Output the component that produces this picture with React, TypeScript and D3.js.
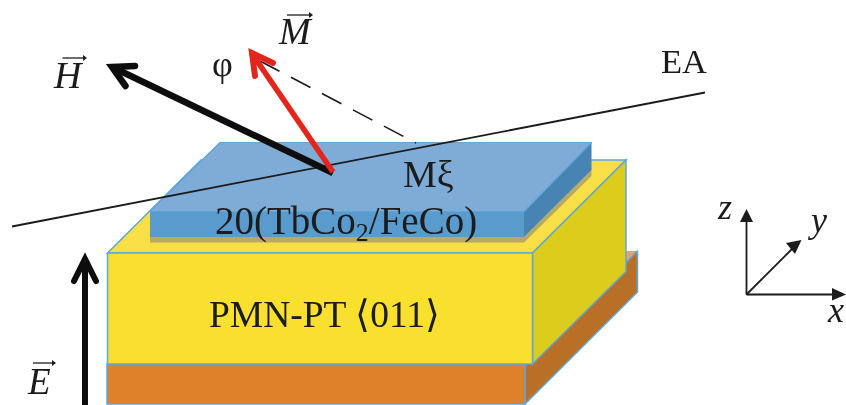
import React from 'react';
import * as d3 from 'd3';

type Pt = [number, number];

// picture space of the schematic
const extentX: Pt = [0, 846];
const extentY: Pt = [0, 405];

const orangeFront: Pt[] = [[107, 364], [525, 364], [525, 404], [107, 404]];
const orangeSide: Pt[] = [[525, 364], [637.5, 251], [637.5, 292], [525, 404]];
const orangeTop: Pt[] = [[600, 251], [637.5, 251], [600, 289]];
const yellowTop: Pt[] = [[107.5, 253], [201, 160], [626, 160], [532.5, 253]];
const yellowFront: Pt[] = [[107.5, 253], [532.5, 253], [532.5, 364], [107.5, 364]];
const yellowSide: Pt[] = [[532.5, 253], [626, 160], [626, 271.5], [532.5, 364]];
const filmShadow: Pt[] = [[150, 237], [524, 237], [591.5, 170], [591.5, 176], [524, 242.5], [150, 242.5]];
const filmTop: Pt[] = [[150, 211.5], [220, 142.5], [591.5, 142.5], [524, 211.5]];
const filmFront: Pt[] = [[150, 211.5], [524, 211.5], [524, 237], [150, 237]];
const filmSide: Pt[] = [[524, 211.5], [591.5, 142.5], [591.5, 170], [524, 237]];

const easyAxis: Pt[] = [[12, 226.5], [705, 92.5]];
const dashedGuide: Pt[] = [[260, 61], [416, 143]];
const fieldH: Pt[] = [[333, 173], [112, 67]];
const fieldHHead: Pt[] = [[135, 66], [112, 67], [125.5, 86]];
const magnetM: Pt[] = [[333, 172], [253, 55]];
const magnetMHead: Pt[] = [[273, 63], [252, 53], [255, 76]];
const fieldE: Pt[] = [[85, 405], [85, 260]];
const fieldEHead: Pt[] = [[74, 281], [85, 259], [96, 281]];

const axisOrigin: Pt = [746.5, 294.5];
const axisEnds: Pt[] = [[746.5, 218], [794, 247], [836, 294.5]];
const axisHeads: Pt[][] = [
  [[740, 222], [746.5, 209], [753, 222]],
  [[786, 243], [801.5, 240], [795, 254]],
  [[832, 288], [846, 294.5], [832, 300.5]],
];

const vectorBars: Pt[][] = [
  [[62.5, 58], [84, 58]],
  [[287, 15], [310, 15]],
  [[33, 363], [53, 363]],
];

const edge = '#5fa6d9';

const App: React.FC = () => {
  const x = d3.scaleLinear().domain(extentX).range([0, 846]);
  const y = d3.scaleLinear().domain(extentY).range([0, 405]);
  const line = d3.line<Pt>().x(d => x(d[0])).y(d => y(d[1]));
  const poly = d3.line<Pt>().x(d => x(d[0])).y(d => y(d[1])).curve(d3.curveLinearClosed);

  const serif = '"Liberation Serif", serif';

  return (
    <svg
      width={846}
      height={405}
      viewBox="0 0 846 405"
      style={{ position: 'absolute', left: 0, top: 0, background: '#fff' }}
      fontFamily={serif}
      fill="#1a1a1a"
    >
      <defs>
        <filter id="soft" x="0" y="0" width="100%" height="100%">
          <feGaussianBlur stdDeviation={0.45} />
        </filter>
      </defs>
      <g filter="url(#soft)">
        {/* substrate */}
        <path d={poly(orangeTop)!} fill="#e2a274" />
        <path d={poly(orangeSide)!} fill="#b86f27" stroke={edge} strokeWidth={1.5} strokeLinejoin="round" />
        <path d={poly(orangeFront)!} fill="#de812b" stroke={edge} strokeWidth={1.5} />

        {/* PMN-PT block */}
        <path d={poly(yellowTop)!} fill="#f8df45" stroke={edge} strokeWidth={1.5} />
        <path d={poly(yellowSide)!} fill="#dccc1c" stroke={edge} strokeWidth={1.5} />
        <path d={poly(yellowFront)!} fill="#fae02d" stroke={edge} strokeWidth={1.5} />

        {/* film */}
        <path d={poly(filmShadow)!} fill="#b8aa62" />
        <path d={poly(filmFront)!} fill="#5a9bce" />
        <path d={poly(filmSide)!} fill="#4684b4" />
        <path d={poly(filmTop)!} fill="#7eacd6" stroke={edge} strokeWidth={1.2} strokeLinejoin="round" />

        {/* easy axis and guide */}
        <path d={line(easyAxis)!} fill="none" stroke="#1a1a1a" strokeWidth={1.8} />
        <path d={line(dashedGuide)!} fill="none" stroke="#1a1a1a" strokeWidth={1.6} strokeDasharray="22 13" />

        {/* vectors */}
        <path d={line(fieldH)!} fill="none" stroke="#111" strokeWidth={6.5} />
        <path d={line(fieldHHead)!} fill="none" stroke="#111" strokeWidth={6.5} strokeLinecap="round" />
        <path d={line(magnetM)!} fill="none" stroke="#e2281e" strokeWidth={5.6} />
        <path d={line(magnetMHead)!} fill="none" stroke="#e2281e" strokeWidth={6} strokeLinecap="round" />
        <path d={line(fieldE)!} fill="none" stroke="#111" strokeWidth={6} />
        <path d={line(fieldEHead)!} fill="none" stroke="#111" strokeWidth={6} strokeLinecap="round" />

        {/* xyz triad */}
        {axisEnds.map((end, i) => (
          <g key={i}>
            <path d={line([axisOrigin, end])!} fill="none" stroke="#1a1a1a" strokeWidth={1.8} />
            <path d={poly(axisHeads[i])!} fill="#1a1a1a" />
          </g>
        ))}

        {/* vector bars above the symbols */}
        {vectorBars.map((b, i) => (
          <g key={i}>
            <path d={line(b)!} fill="none" stroke="#1a1a1a" strokeWidth={1.3} />
            <path
              d={poly([[b[1][0] - 1, b[1][1] - 3], [b[1][0] + 3, b[1][1]], [b[1][0] - 1, b[1][1] + 3]])!}
              fill="#1a1a1a"
            />
          </g>
        ))}

        <text x={54} y={88} fontSize={38} fontStyle="italic">H</text>
        <text x={279} y={44} fontSize={38} fontStyle="italic">M</text>
        <text x={28} y={394} fontSize={37} fontStyle="italic">E</text>
        <text x={212} y={76} fontSize={36}>φ</text>
        <text x={661} y={72.5} fontSize={34.5}>EA</text>
        <text x={403} y={187} fontSize={38}>Mξ</text>
        <text x={215} y={234} fontSize={39}>
          20(TbCo<tspan dy={7} fontSize={26}>2</tspan><tspan dy={-7}>/FeCo)</tspan>
        </text>
        <text x={209} y={327} fontSize={37.5}>PMN-PT ⟨011⟩</text>
        <text x={718} y={219} fontSize={36} fontStyle="italic">z</text>
        <text x={811} y={232} fontSize={36} fontStyle="italic">y</text>
        <text x={828} y={322} fontSize={36} fontStyle="italic">x</text>
      </g>
    </svg>
  );
};

export default App;
